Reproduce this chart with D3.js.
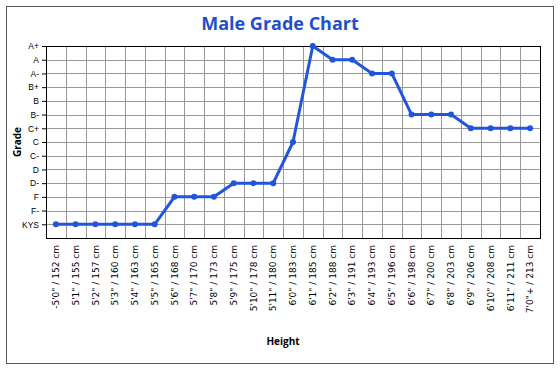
<!DOCTYPE html>
<html>
<head>
<meta charset="utf-8">
<script src="https://cdn.jsdelivr.net/npm/d3@7"></script>
<style>
body{margin:0;background:#fff}
</style>
</head>
<body>
<script>
// grade scale, worst to best
var grades=["KYS","F-","F","D-","D","C-","C","C+","B-","B","B+","A-","A","A+"]
var heights=["-5'0\" / 152 cm","5'1\" / 155 cm","5'2\" / 157 cm","5'3\" / 160 cm","5'4\" / 163 cm","5'5\" / 165 cm",
  "5'6\" / 168 cm","5'7\" / 170 cm","5'8\" / 173 cm","5'9\" / 175 cm","5'10\" / 178 cm","5'11\" / 180 cm",
  "6'0\" / 183 cm","6'1\" / 185 cm","6'2\" / 188 cm","6'3\" / 191 cm","6'4\" / 193 cm","6'5\" / 196 cm",
  "6'6\" / 198 cm","6'7\" / 200 cm","6'8\" / 203 cm","6'9\" / 206 cm","6'10\" / 208 cm","6'11\" / 211 cm","7'0\"+ / 213 cm"]
var gradeAt=["KYS","KYS","KYS","KYS","KYS","KYS","F","F","F","D-","D-","D-",
  "C","A+","A","A","A-","A-","B-","B-","B-","C+","C+","C+","C+"]

var width=560,height=370
var margin={top:46,right:20,bottom:132,left:46}
var w=540-margin.left
var h=238-margin.top

var svg=d3.select("body").append("svg")
  .attr("width",width)
  .attr("height",height)

// outer frame
svg.append("rect")
  .attr("x",6.5).attr("y",6.5)
  .attr("width",547).attr("height",357)
  .attr("fill","#fff")
  .attr("stroke","#595959")
  .attr("stroke-width",1)

var x=d3.scaleBand().domain(heights).range([0,w])
var y=d3.scaleLinear().domain([0,grades.length]).range([h,0])

var g=svg.append("g").attr("transform","translate("+margin.left+","+margin.top+")")

// horizontal grid at each grade
g.selectAll(".hg").data(grades).enter().append("line")
  .attr("x1",0).attr("x2",w)
  .attr("y1",function(d,i){return Math.round(y(i+1))+0.5})
  .attr("y2",function(d,i){return Math.round(y(i+1))+0.5})
  .attr("stroke","#999").attr("stroke-width",1)

// vertical grid between categories
g.selectAll(".vg").data(heights.slice(1)).enter().append("line")
  .attr("x1",function(d){return Math.round(x(d))+0.5})
  .attr("x2",function(d){return Math.round(x(d))+0.5})
  .attr("y1",0).attr("y2",h)
  .attr("stroke","#999").attr("stroke-width",1)

g.append("rect")
  .attr("x",0.5).attr("y",0.5)
  .attr("width",w).attr("height",h)
  .attr("fill","none").attr("stroke","#000").attr("stroke-width",1)

// y axis labels
var yAxis=d3.axisLeft(y)
  .tickValues(d3.range(1,grades.length+1))
  .tickFormat(function(d){return grades[d-1]})
  .tickSize(4).tickPadding(3)
var ya=g.append("g").call(yAxis)
ya.select(".domain").remove()
ya.selectAll("text").style("font-family","Liberation Sans, Arial, sans-serif").style("font-size","8.5px").attr("fill","#000")
ya.selectAll("line").attr("stroke","#000")

// x axis labels
var xAxis=d3.axisBottom(x).tickSize(0).tickPadding(0)
var xa=g.append("g").attr("transform","translate(0,"+h+")").call(xAxis)
xa.select(".domain").remove()
xa.selectAll("text")
  .attr("transform","rotate(-90)")
  .attr("x",-7).attr("y",0).attr("dy","0.35em")
  .style("text-anchor","end")
  .style("font-family","DejaVu Sans, sans-serif")
  .style("font-size","9px")
  .attr("fill","#000")

// line
var line=d3.line()
  .x(function(d,i){return x(heights[i])+x.bandwidth()/2})
  .y(function(d){return y(grades.indexOf(d)+1)})

g.append("path").datum(gradeAt)
  .attr("d",line)
  .attr("fill","none")
  .attr("stroke","#2255dd")
  .attr("stroke-width",3)
  .attr("stroke-linejoin","round")

g.selectAll(".pt").data(gradeAt).enter().append("circle")
  .attr("cx",function(d,i){return x(heights[i])+x.bandwidth()/2})
  .attr("cy",function(d){return y(grades.indexOf(d)+1)})
  .attr("r",3)
  .attr("fill","#2255dd")

// titles
svg.append("text")
  .attr("x",280).attr("y",30)
  .attr("text-anchor","middle")
  .style("font-family","Open Sans, sans-serif")
  .style("font-weight","bold")
  .style("font-size","18px")
  .attr("fill","#1f4fcc")
  .text("Male Grade Chart")

svg.append("text")
  .attr("transform","translate(21,"+142+") rotate(-90)")
  .attr("text-anchor","middle")
  .style("font-family","Open Sans, sans-serif")
  .style("font-weight","bold")
  .style("font-size","10px")
  .text("Grade")

svg.append("text")
  .attr("x",283).attr("y",345)
  .attr("text-anchor","middle")
  .style("font-family","Open Sans, sans-serif")
  .style("font-weight","bold")
  .style("font-size","10px")
  .text("Height")
</script>
</body>
</html>
